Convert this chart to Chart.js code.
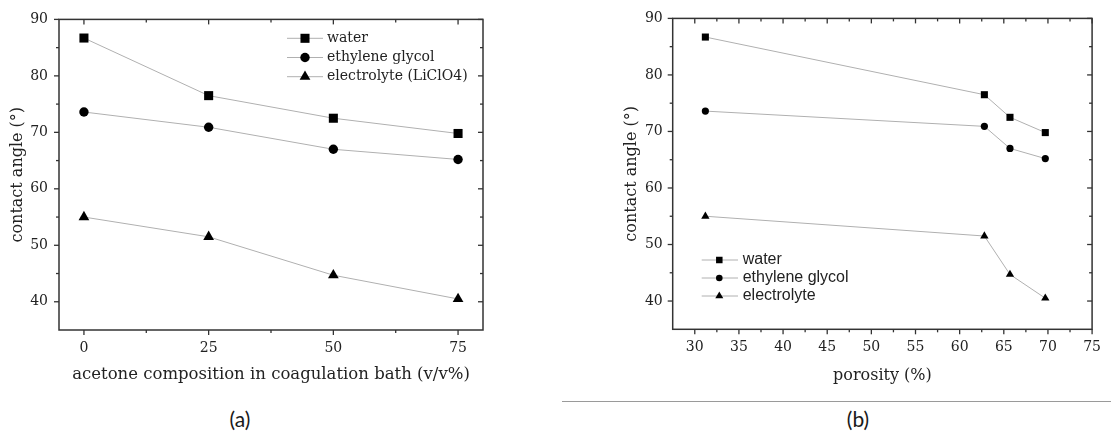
<!DOCTYPE html>
<html>
<head>
<meta charset="utf-8">
<script src="https://cdn.jsdelivr.net/npm/chart.js@4.4.1/dist/chart.umd.min.js"></script>
<style>
  html, body { margin: 0; padding: 0; background: #fff; }
  body { width: 1111px; height: 432px; position: relative; overflow: hidden; }
  canvas { position: absolute; top: 0; }
  #ca { left: 0; }
  #cb { left: 600px; }
  .cap { position: absolute; font-family: Lato, "Open Sans", sans-serif; font-size: 21px; color: #1a1a1a; transform: translate(-50%, -50%); white-space: nowrap; }
  #rule { position: absolute; left: 562px; width: 549px; top: 401px; height: 0; border-top: 1px solid #9a9a9a; }
</style>
</head>
<body>
<canvas id="ca" width="540" height="400"></canvas>
<canvas id="cb" width="511" height="400"></canvas>
<div class="cap" style="left:240px; top:418px;">(a)</div>
<div id="rule"></div>
<div class="cap" style="left:858px; top:418px;">(b)</div>
<script>
// ---- data ----
const seriesNames = ['water', 'ethylene glycol', 'electrolyte (LiClO4)'];
const seriesNamesB = ['water', 'ethylene glycol', 'electrolyte'];
const acetone = [0, 25, 50, 75];
const porosity = [31.2, 62.8, 65.7, 69.7];
const waterAngle = [86.7, 76.5, 72.5, 69.8];
const glycolAngle = [73.6, 70.9, 67.0, 65.2];
const electrolyteAngle = [55.0, 51.5, 44.7, 40.5];

// ---- tick labels ----
const yTicks = [40, 50, 60, 70, 80, 90];
const yMinor = [45, 55, 65, 75, 85];
const xTicksA = [0, 25, 50, 75];
const xMinorA = [12.5, 37.5, 62.5];
const xTicksB = [30, 35, 40, 45, 50, 55, 60, 65, 70, 75];
const xMinorB = [32.5, 37.5, 42.5, 47.5, 52.5, 57.5, 62.5, 67.5, 72.5];

const SERIF = '"DejaVu Serif", "Liberation Serif", serif';
const SANS = '"Liberation Sans", Arial, sans-serif';
const LINE_COLOR = '#b0b0b0';
const TEXT = '#222';

function pts(xs, ys) { return xs.map((x, i) => ({ x: x, y: ys[i] })); }

function makeDatasets(xs, names, radii) {
  const styles = ['rect', 'circle', 'triangle'];
  const ys = [waterAngle, glycolAngle, electrolyteAngle];
  return ys.map((arr, i) => ({
    label: names[i],
    data: pts(xs, arr),
    borderColor: LINE_COLOR,
    borderWidth: 1,
    pointStyle: styles[i],
    pointRadius: radii[i],
    pointHoverRadius: radii[i],
    pointBackgroundColor: '#000',
    pointBorderColor: '#000',
    pointBorderWidth: 0,
    tension: 0,
    fill: false,
    clip: false
  }));
}

const framePlugin = {
  id: 'frameTicks',
  beforeDatasetsDraw(chart, args, opts) {
    const { ctx, chartArea: a, scales } = chart;
    const xs = scales.x, ys = scales.y;
    ctx.save();
    ctx.strokeStyle = '#333';
    ctx.lineWidth = 1.5;
    ctx.strokeRect(a.left, a.top, a.right - a.left, a.bottom - a.top);
    ctx.lineWidth = 1.3;
    const seg = (x1, y1, x2, y2) => { ctx.beginPath(); ctx.moveTo(x1, y1); ctx.lineTo(x2, y2); ctx.stroke(); };
    const M = 5, m = 3;
    opts.xMajor.forEach(v => { const p = xs.getPixelForValue(v); seg(p, a.bottom, p, a.bottom + M); seg(p, a.top, p, a.top + M); });
    opts.xMinor.forEach(v => { const p = xs.getPixelForValue(v); seg(p, a.bottom, p, a.bottom + m); seg(p, a.top, p, a.top + m); });
    opts.yMajor.forEach(v => { const p = ys.getPixelForValue(v); seg(a.left - M, p, a.left, p); seg(a.right - M, p, a.right, p); });
    opts.yMinor.forEach(v => { const p = ys.getPixelForValue(v); seg(a.left - m, p, a.left, p); seg(a.right - m, p, a.right, p); });
    ctx.restore();
  },
  afterDraw(chart, args, opts) {
    const L = opts.legend;
    const ctx = chart.ctx;
    ctx.save();
    ctx.font = L.font;
    ctx.textBaseline = 'middle';
    ctx.textAlign = 'left';
    chart.data.datasets.forEach((ds, i) => {
      const yy = L.y0 + i * L.dy;
      ctx.strokeStyle = LINE_COLOR;
      ctx.lineWidth = 1;
      ctx.beginPath(); ctx.moveTo(L.x1, yy); ctx.lineTo(L.x2, yy); ctx.stroke();
      ctx.fillStyle = '#000';
      Chart.helpers.drawPoint(ctx, { pointStyle: ds.pointStyle, radius: L.radii[i], borderWidth: 0, rotation: 0 }, L.xm, yy);
      ctx.fillStyle = TEXT;
      ctx.fillText(ds.label, L.xt, yy);
    });
    ctx.restore();
  }
};

function makeChart(id, cfg) {
  return new Chart(document.getElementById(id), {
    type: 'line',
    data: { datasets: makeDatasets(cfg.xs, cfg.names, cfg.radii) },
    plugins: [framePlugin],
    options: {
      responsive: false,
      animation: false,
      events: [],
      layout: { padding: cfg.padding },
      plugins: {
        legend: { display: false },
        tooltip: { enabled: false },
        frameTicks: {
          xMajor: cfg.xTicks, xMinor: cfg.xMinor, yMajor: yTicks, yMinor: yMinor,
          legend: cfg.legend
        }
      },
      scales: {
        x: {
          type: 'linear',
          min: cfg.xMin, max: cfg.xMax,
          afterBuildTicks: s => { s.ticks = cfg.xTicks.map(v => ({ value: v })); },
          afterFit: s => { s.height = cfg.xAxisH; },
          grid: { display: false, drawTicks: false },
          border: { display: false },
          ticks: { padding: cfg.xTickPad, color: TEXT, font: { family: SERIF, size: 14 }, maxRotation: 0, autoSkip: false },
          title: { display: true, text: cfg.xTitle, color: TEXT, font: { family: SERIF, size: cfg.xTitleSize }, padding: { top: 0, bottom: 15 } }
        },
        y: {
          min: 35, max: 90,
          afterBuildTicks: s => { s.ticks = yTicks.map(v => ({ value: v })); },
          afterFit: s => { s.width = cfg.yAxisW; },
          grid: { display: false, drawTicks: false },
          border: { display: false },
          ticks: { padding: cfg.yTickPad, color: TEXT, font: { family: SERIF, size: 14 } },
          title: { display: true, text: 'contact angle (°)', color: TEXT, font: { family: SERIF, size: 16 }, padding: { top: cfg.yTitlePad, bottom: 0 } }
        }
      }
    }
  });
}

makeChart('ca', {
  xs: acetone, names: seriesNames, radii: [6.4, 4.7, 6.2],
  xMin: -5, xMax: 80, xTicks: xTicksA, xMinor: xMinorA,
  padding: { top: 17, right: 57, bottom: 0, left: 0 },
  xAxisH: 70, yAxisW: 59, xTickPad: 10, yTickPad: 11, yTitlePad: 8,
  xTitle: 'acetone composition in coagulation bath (v/v%)', xTitleSize: 16.5,
  legend: { font: '14px ' + SERIF, x1: 287, x2: 323, xm: 305, xt: 327, y0: 38.3, dy: 19.2, radii: [6.4, 4.7, 6.2] }
});

makeChart('cb', {
  xs: porosity, names: seriesNamesB, radii: [5.0, 3.6, 4.8],
  xMin: 27.5, xMax: 75, xTicks: xTicksB, xMinor: xMinorB,
  padding: { top: 16, right: 11, bottom: 0, left: 0 },
  xAxisH: 70.7, yAxisW: 72.7, xTickPad: 10, yTickPad: 10, yTitlePad: 22.5,
  xTitle: 'porosity (%)', xTitleSize: 16,
  legend: { font: '16px ' + SANS, x1: 101.7, x2: 138, xm: 119.3, xt: 142.7, y0: 260, dy: 18, radii: [4.6, 3.3, 4.6] }
});
</script>
</body>
</html>
